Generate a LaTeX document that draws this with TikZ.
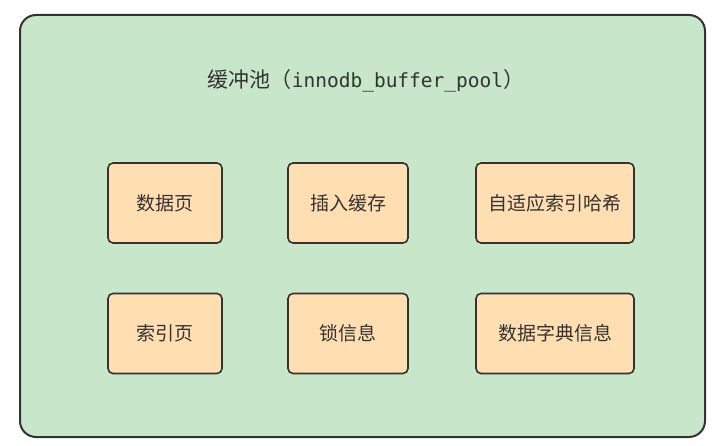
\documentclass[tikz,border=0pt]{standalone}
\usepackage{fontspec}
\newfontfamily\cjk{Noto Sans CJK SC}
\newfontfamily\latin{DejaVu Sans Mono}
\definecolor{poolgreen}{HTML}{C8E6C9}
\definecolor{pageorange}{HTML}{FFDFB1}
\definecolor{edgegray}{HTML}{333333}
\tikzset{
  part/.style={draw=edgegray,line width=1.6pt,fill=pageorange,rounded corners=5pt,
    minimum height=80pt,text=edgegray,font=\cjk\fontsize{19}{19}\selectfont}
}
\begin{document}
\begin{tikzpicture}[x=1pt,y=-1pt]
\useasboundingbox (0,0) rectangle (718,446);
% buffer pool
\node[draw=edgegray,line width=2pt,fill=poolgreen,rounded corners=16pt,
  minimum width=685pt,minimum height=422pt] (pool) at (362.5,226) {};
\node[text=edgegray,font=\cjk\fontsize{21}{21}\selectfont] (title) at (366,80.5)
  {缓冲池（{\latin\fontsize{19.5}{21}\selectfont innodb\_buffer\_pool}）};
% parts of the pool
\foreach \n/\x/\y/\w/\t in {data/165/203/114/数据页,insert/348/203/120/插入缓存,hash/555/203/158/自适应索引哈希,
  index/165/333.5/114/索引页,lock/348/333.5/120/锁信息,dict/555/333.5/158/数据字典信息}
  \node[part,minimum width=\w pt] (\n) at (\x,\y) {\t};
\end{tikzpicture}
\end{document}
